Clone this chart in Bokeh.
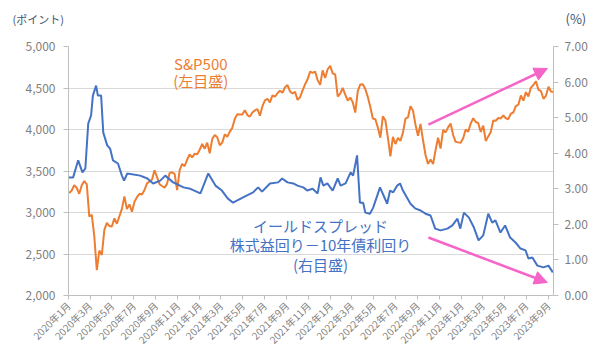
import math
import pandas as pd
from bokeh.plotting import figure
from bokeh.models import LinearAxis, Range1d, FixedTicker, NumeralTickFormatter, Label, Arrow, NormalHead
from bokeh.embed import file_html
from bokeh.resources import INLINE

# ---------------- data ----------------
spx_start = "2020-01-03"  # weekly (Friday) closes
spx = [
    3235, 3265, 3330, 3295, 3225, 3328, 3380, 3338, 2954, 2972, 2711, 2305, 2541, 2489, 2790, 2875, 2837,
    2831, 2930, 2864, 2955, 3044, 3194, 3041, 3098, 3009, 3130, 3185, 3225, 3216, 3271, 3351, 3373, 3397,
    3508, 3427, 3341, 3319, 3298, 3348, 3477, 3484, 3465, 3270, 3509, 3585, 3558, 3638, 3699, 3663, 3709,
    3703, 3756,
    3825, 3768, 3841, 3714, 3887, 3934, 3907, 3811, 3842, 3943, 3913, 3975, 4020, 4129, 4185, 4180, 4181,
    4233, 4174, 4156, 4204, 4230, 4247, 4166, 4281, 4352, 4370, 4327, 4412, 4395, 4437, 4468, 4442, 4509,
    4535, 4459, 4433, 4455, 4357, 4391, 4471, 4545, 4605, 4697, 4683, 4698, 4595, 4538, 4712, 4620, 4726,
    4766,
    4677, 4663, 4398, 4432, 4501, 4419, 4349, 4385, 4329, 4204, 4463, 4543, 4546, 4488, 4393, 4272, 4132,
    4123, 4024, 3901, 4158, 4109, 3901, 3675, 3912, 3825, 3899, 3863, 3962, 4130, 4145, 4280, 4228, 4058,
    3924, 4067, 3873, 3693, 3586, 3640, 3583, 3752, 3901, 3771, 3993, 3965, 4026, 4072, 3934, 3852, 3845,
    3840,
    3895, 3999, 3973, 4071, 4136, 4090, 4079, 3970, 4046, 3862, 3917, 3971, 4109, 4105, 4138, 4133, 4169,
    4136, 4124, 4192, 4205, 4282, 4299, 4410, 4348, 4450, 4399, 4505, 4536, 4582, 4478, 4464, 4370, 4406,
    4515, 4457, 4450,
]

spread_dates = [
    "2020-01-01", "2020-01-14", "2020-01-28", "2020-02-09", "2020-02-17", "2020-02-25", "2020-03-04",
    "2020-03-09", "2020-03-18", "2020-03-23", "2020-04-01", "2020-04-07", "2020-04-18", "2020-04-26",
    "2020-05-04", "2020-05-18", "2020-05-29", "2020-06-04", "2020-06-13", "2020-07-19", "2020-08-08",
    "2020-08-24", "2020-09-13", "2020-09-27", "2020-10-19", "2020-11-17", "2020-12-06", "2021-01-03",
    "2021-01-25", "2021-02-14", "2021-03-04", "2021-03-20", "2021-04-04", "2021-05-02", "2021-05-30",
    "2021-06-13", "2021-06-24", "2021-07-16", "2021-08-08", "2021-08-19", "2021-09-03", "2021-09-19",
    "2021-10-01", "2021-10-17", "2021-10-28", "2021-11-12", "2021-11-26", "2021-12-04", "2021-12-12",
    "2021-12-23", "2022-01-07", "2022-01-21", "2022-01-29", "2022-02-12", "2022-02-26", "2022-03-05",
    "2022-03-16", "2022-03-24", "2022-04-02", "2022-04-08", "2022-04-21", "2022-04-30", "2022-05-19",
    "2022-06-08", "2022-06-16", "2022-06-25", "2022-07-06", "2022-07-14", "2022-07-22", "2022-08-12",
    "2022-08-25", "2022-09-09", "2022-09-23", "2022-10-07", "2022-10-20", "2022-11-04", "2022-11-23",
    "2022-12-07", "2022-12-21", "2022-12-29", "2023-01-08", "2023-01-22", "2023-02-05", "2023-02-18",
    "2023-03-03", "2023-03-17", "2023-03-28", "2023-04-06", "2023-04-20", "2023-05-03", "2023-05-17",
    "2023-06-01", "2023-06-15", "2023-06-29", "2023-07-07", "2023-07-18", "2023-08-01", "2023-08-18",
    "2023-09-01", "2023-09-13",
]
spread = [
    3.32, 3.32, 3.80, 3.46, 3.57, 4.83, 5.06, 5.62, 5.90, 5.62, 5.62, 4.58, 4.22, 4.13,
    3.80, 3.71, 3.37, 3.23, 3.43, 3.37, 3.29, 3.15, 3.23, 3.37, 3.18, 3.04, 3.00, 2.87,
    3.43, 3.09, 2.95, 2.73, 2.61, 2.76, 2.90, 3.04, 2.92, 3.15, 3.18, 3.29, 3.18, 3.15,
    3.09, 3.04, 2.95, 3.00, 2.87, 3.32, 3.09, 3.15, 2.95, 3.29, 3.09, 3.15, 3.46, 3.37,
    3.94, 2.61, 2.61, 2.33, 2.30, 2.47, 3.04, 2.58, 2.95, 2.90, 3.09, 3.15, 2.95, 2.58,
    2.45, 2.39, 2.30, 2.25, 1.88, 1.83, 1.88, 1.97, 2.16, 1.88, 2.33, 2.19, 1.91, 1.55,
    1.69, 2.30, 2.05, 2.11, 1.77, 1.97, 1.63, 1.49, 1.32, 1.27, 1.04, 1.07, 0.84, 0.79,
    0.84, 0.65,
]

tick_months = ["2020-01-01", "2020-03-01", "2020-05-01", "2020-07-01", "2020-09-01", "2020-11-01",
               "2021-01-01", "2021-03-01", "2021-05-01", "2021-07-01", "2021-09-01", "2021-11-01",
               "2022-01-01", "2022-03-01", "2022-05-01", "2022-07-01", "2022-09-01", "2022-11-01",
               "2023-01-01", "2023-03-01", "2023-05-01", "2023-07-01", "2023-09-01"]
tick_labels = ["2020年1月", "2020年3月", "2020年5月", "2020年7月", "2020年9月", "2020年11月",
               "2021年1月", "2021年3月", "2021年5月", "2021年7月", "2021年9月", "2021年11月",
               "2022年1月", "2022年3月", "2022年5月", "2022年7月", "2022年9月", "2022年11月",
               "2023年1月", "2023年3月", "2023年5月", "2023年7月", "2023年9月"]
left_ticks = [2000, 2500, 3000, 3500, 4000, 4500, 5000]
right_ticks = [0, 1, 2, 3, 4, 5, 6, 7]

# ---------------- styling ----------------
FONT = "Noto Sans CJK JP"
ORANGE = "#ED7D31"
BLUE = "#4472C4"
PINK = "#F564C8"
GRAY_TXT = "#7F7F7F"
AXIS_LINE = "#BFBFBF"
FRAME_L, FRAME_R, FRAME_T, FRAME_B = 68, 553, 46, 295


def ms(d):
    return int(pd.Timestamp(d).value // 10**6)


X0, X1 = ms("2020-01-01"), ms("2023-09-15")
Y0, Y1 = 2000, 5000

spx_dates = pd.date_range(spx_start, periods=len(spx), freq="W-FRI")
spread_dt = pd.to_datetime(spread_dates)

p = figure(width=600, height=354, x_axis_type="datetime", output_backend="svg", toolbar_location=None,
           x_range=Range1d(X0, X1), y_range=Range1d(Y0, Y1),
           min_border_left=FRAME_L, min_border_right=600 - FRAME_R,
           min_border_top=FRAME_T, min_border_bottom=354 - FRAME_B)
p.outline_line_color = None
p.background_fill_color = "white"
p.border_fill_color = "white"
p.extra_y_ranges = {"pct": Range1d(0, 7)}

p.xgrid.visible = False
p.ygrid.grid_line_color = "#D9D9D9"
p.ygrid.grid_line_width = 1
p.ygrid.ticker = FixedTicker(ticks=left_ticks)

p.line(spx_dates, spx, line_color=ORANGE, line_width=2)
p.line(spread_dt, spread, line_color=BLUE, line_width=2, y_range_name="pct")

# left axis
ya = p.yaxis[0]
ya.ticker = FixedTicker(ticks=left_ticks)
ya.formatter = NumeralTickFormatter(format="0,0")
# bottom axis
xa = p.xaxis[0]
xa.ticker = FixedTicker(ticks=[ms(d) for d in tick_months])
xa.major_label_overrides = {ms(d): lab for d, lab in zip(tick_months, tick_labels)}
xa.major_label_orientation = math.pi / 4

ra = LinearAxis(y_range_name="pct", ticker=FixedTicker(ticks=right_ticks),
                formatter=NumeralTickFormatter(format="0.00"))
p.add_layout(ra, "right")

for ax in (ya, xa, ra):
    ax.axis_line_color = AXIS_LINE
    ax.major_tick_line_color = AXIS_LINE
    ax.major_tick_out = 5
    ax.major_tick_in = 0
    ax.minor_tick_line_color = None
    ax.major_label_text_color = GRAY_TXT
    ax.major_label_text_font = FONT
ya.major_label_text_font_size = "12px"
ra.major_label_text_font_size = "12px"
ya.major_label_standoff = 8
ra.major_label_standoff = 6
xa.major_label_text_font_size = "10px"
xa.major_tick_out = 4
xa.major_label_standoff = 4

# header unit labels, placed in the top side panels (screen px relative to each panel;
# the second panel is stacked ~16px above the first)
p.add_layout(Label(x=12 - FRAME_L, y=FRAME_T - 18, x_units="screen", y_units="screen", text="(ポイント)",
                   text_font=FONT, text_font_size="11px", text_color="#44546A", text_baseline="middle"),
             "above")
p.add_layout(Label(x=565 - FRAME_L, y=FRAME_T - 18 - 16, x_units="screen", y_units="screen", text="(%)",
                   text_font=FONT, text_font_size="13px", text_color="#44546A", text_baseline="middle"),
             "above")

# series labels
for txt, yv in (("S&P500", 4796), ("(左目盛)", 4591)):
    p.add_layout(Label(x=ms("2021-01-04"), y=yv, text=txt, text_font=FONT, text_font_size="15px",
                       text_color=ORANGE, text_align="center", text_baseline="middle"))
for txt, yv in (("イールドスプレッド", 2843), ("株式益回り－10年債利回り", 2615), ("(右目盛)", 2374)):
    p.add_layout(Label(x=ms("2021-12-04"), y=yv, text=txt, text_font=FONT, text_font_size="15px",
                       text_color=BLUE, text_align="center", text_baseline="middle"))

# trend arrows
for (xs, ys, xe, ye) in (("2022-10-01", 4060, "2023-08-29", 4735),
                         ("2022-10-01", 2699, "2023-08-29", 2157)):
    p.add_layout(Arrow(x_start=ms(xs), y_start=ys, x_end=ms(xe), y_end=ye,
                       line_color=PINK, line_width=2.5,
                       end=NormalHead(size=13, fill_color=PINK, line_color=PINK)))

open("out.html", "w").write(file_html(p, INLINE))
